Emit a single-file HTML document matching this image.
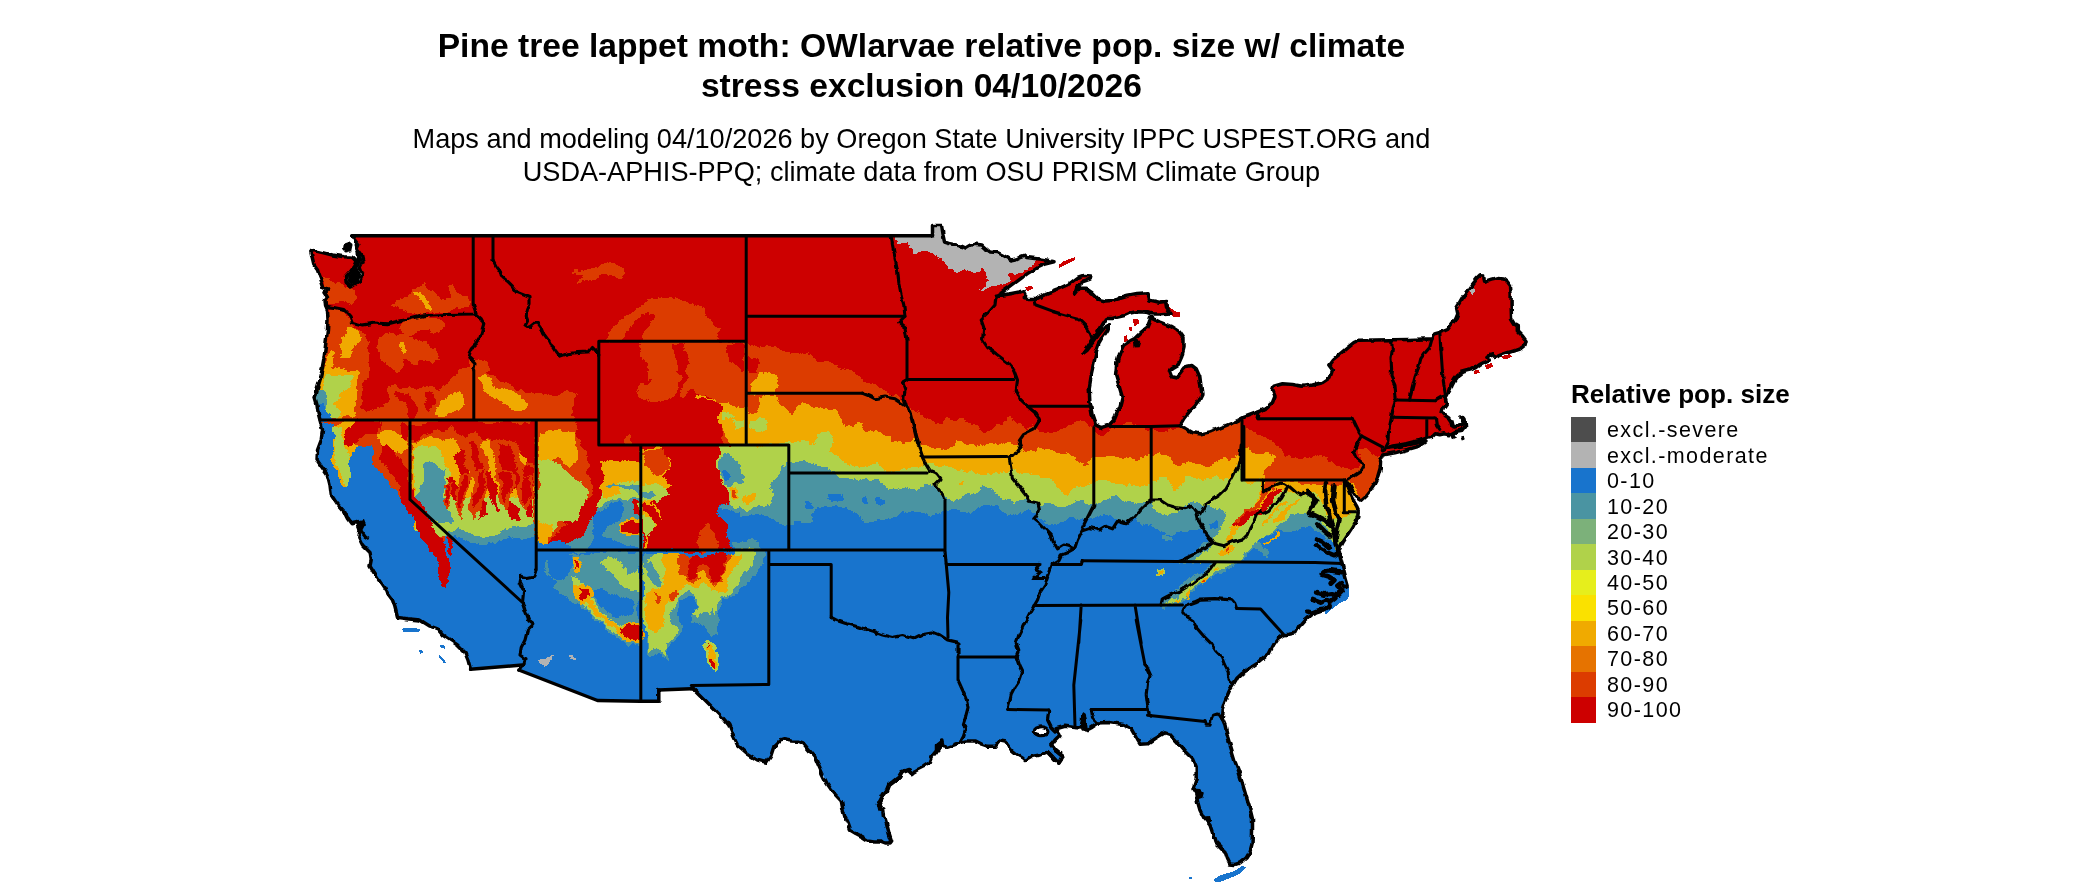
<!DOCTYPE html>
<html><head><meta charset="utf-8"><title>Pine tree lappet moth</title>
<style>
html,body{margin:0;padding:0;background:#fff;}
body{width:2100px;height:892px;position:relative;overflow:hidden;font-family:"Liberation Sans",sans-serif;color:#000;}
.t,#lt,.lb{will-change:transform;}
.t{position:absolute;left:0;width:1842.8px;text-align:center;white-space:nowrap;}
#t1{top:26.45px;font-size:33.62px;font-weight:bold;line-height:39.6px;}
#t2{top:122.65px;font-size:27.14px;line-height:32.9px;}
#lt{position:absolute;left:1570.5px;top:379.2px;font-size:26.07px;font-weight:bold;line-height:30px;white-space:nowrap;}
.sw{position:absolute;left:1571.2px;width:24.7px;height:25.6px;}
.lb{position:absolute;left:1607px;height:25.45px;line-height:25.45px;font-size:21.5px;white-space:nowrap;letter-spacing:1.4px;}
svg{position:absolute;left:0;top:0;}
</style></head><body>
<div class="t" id="t1">Pine tree lappet moth: OWlarvae relative pop. size w/ climate<br>stress exclusion 04/10/2026</div>
<div class="t" id="t2">Maps and modeling 04/10/2026 by Oregon State University IPPC USPEST.ORG and<br>USDA-APHIS-PPQ; climate data from OSU PRISM Climate Group</div>
<div id="lt">Relative pop. size</div>
<div class="sw" style="top:417.0px;background:#4d4d4d"></div><div class="lb" style="top:418.3px">excl.-severe</div>
<div class="sw" style="top:442.4px;background:#b3b3b3"></div><div class="lb" style="top:443.8px">excl.-moderate</div>
<div class="sw" style="top:467.9px;background:#1874cd"></div><div class="lb" style="top:469.2px">0-10</div>
<div class="sw" style="top:493.4px;background:#4a94a2"></div><div class="lb" style="top:494.7px">10-20</div>
<div class="sw" style="top:518.8px;background:#7cb17a"></div><div class="lb" style="top:520.1px">20-30</div>
<div class="sw" style="top:544.2px;background:#b0d24a"></div><div class="lb" style="top:545.5px">30-40</div>
<div class="sw" style="top:569.7px;background:#e6ee1c"></div><div class="lb" style="top:571.0px">40-50</div>
<div class="sw" style="top:595.1px;background:#fae100"></div><div class="lb" style="top:596.4px">50-60</div>
<div class="sw" style="top:620.6px;background:#f0aa00"></div><div class="lb" style="top:621.9px">60-70</div>
<div class="sw" style="top:646.0px;background:#e67300"></div><div class="lb" style="top:647.3px">70-80</div>
<div class="sw" style="top:671.5px;background:#dc3c00"></div><div class="lb" style="top:672.8px">80-90</div>
<div class="sw" style="top:697.0px;background:#cd0000"></div><div class="lb" style="top:698.2px">90-100</div>
<svg width="2100" height="892" viewBox="0 0 2100 892" shape-rendering="crispEdges">
<defs><clipPath id="land"><path d="M352.5 235.8L932.5 235.8L932.5 225.5L941.5 225.5L943.0 235.0L944.5 242.0L950.0 243.8L956.2 245.0L962.5 246.5L965.5 248.0L970.0 245.2L976.2 244.2L982.0 245.0L986.2 248.8L990.0 252.0L997.5 252.5L1002.5 255.0L1007.5 257.8L1011.2 260.0L1016.2 259.0L1021.2 256.5L1025.0 255.2L1027.5 257.5L1033.8 258.2L1040.0 259.0L1047.5 260.2L1054.0 261.8L1045.0 264.0L1036.0 268.2L1027.1 273.9L1018.1 280.6L1009.1 287.3L1001.3 292.9L996.1 296.1L1002.4 294.9L1011.4 293.4L1019.2 292.0L1023.0 290.7L1024.8 293.8L1024.2 298.7L1028.2 299.4L1034.9 299.6L1047.2 293.4L1058.5 288.9L1069.7 283.7L1077.5 277.7L1084.2 275.4L1091.0 275.9L1090.3 279.2L1083.1 281.5L1077.5 286.0L1075.3 293.8L1079.8 288.2L1085.4 288.2L1092.1 292.7L1098.8 299.4L1105.5 301.0L1112.3 300.5L1119.0 298.7L1128.0 296.1L1136.9 294.5L1148.1 293.8L1149.7 300.1L1159.3 302.3L1165.6 301.6L1166.5 307.2L1171.0 312.9L1159.3 314.0L1152.6 314.0L1147.0 312.2L1136.9 311.7L1129.1 313.5L1123.5 315.8L1116.8 317.3L1112.3 318.5L1105.5 318.5L1102.2 323.4L1098.8 329.7L1094.8 336.4L1091.4 342.0L1086.5 348.7L1083.1 353.2L1087.2 350.3L1092.1 343.6L1096.6 337.5L1101.1 331.5L1105.5 326.3L1109.6 324.7L1107.8 329.7L1103.3 336.4L1098.8 344.2L1096.1 352.1L1094.3 361.1L1091.4 374.5L1089.2 388.0L1089.8 401.4L1092.1 414.9L1095.5 424.9L1101.1 427.6L1108.9 425.2L1114.5 419.3L1120.1 405.9L1122.3 396.9L1119.0 385.7L1115.6 374.5L1116.8 363.3L1120.1 352.1L1123.5 345.4L1130.2 340.9L1134.7 338.6L1141.4 331.9L1147.0 327.4L1149.3 321.8L1150.4 317.3L1159.3 321.8L1170.5 326.3L1179.5 331.9L1184.0 338.6L1184.0 347.6L1181.8 356.6L1178.4 364.4L1172.8 367.8L1169.4 371.1L1171.7 376.8L1176.2 377.9L1180.6 372.3L1185.1 366.7L1191.8 365.5L1196.3 368.9L1199.7 376.8L1200.8 385.7L1201.9 394.7L1198.6 401.4L1195.2 405.9L1189.6 411.5L1185.1 417.1L1181.8 422.7L1179.5 426.1L1186.2 429.4L1191.8 432.8L1200.8 433.9L1210.9 431.7L1222.1 427.2L1233.3 422.7L1244.5 417.1L1260.0 411.5L1265.0 408.8L1272.5 402.5L1275.0 396.2L1272.5 390.0L1273.8 386.2L1282.5 383.8L1292.5 384.5L1302.5 386.2L1312.5 385.0L1322.5 382.5L1330.0 377.5L1332.5 370.0L1328.8 365.0L1332.5 360.0L1340.0 353.8L1347.5 347.5L1353.8 342.5L1359.1 340.2L1374.8 340.0L1391.6 339.8L1408.4 339.6L1424.1 339.1L1432.0 338.9L1433.5 334.0L1439.8 332.2L1443.2 331.3L1447.7 329.5L1451.0 325.0L1455.5 319.4L1457.8 313.8L1456.6 308.2L1460.0 302.6L1463.3 297.0L1467.8 291.4L1472.3 284.6L1476.8 279.1L1480.2 275.7L1483.5 276.1L1484.6 281.3L1491.4 279.1L1498.1 277.5L1502.6 277.9L1507.0 281.3L1510.4 285.8L1511.1 293.6L1511.1 304.8L1511.5 318.3L1514.9 323.9L1518.3 326.1L1518.3 331.7L1522.7 336.2L1526.1 340.7L1525.0 345.2L1520.5 348.5L1513.8 350.8L1507.0 353.0L1500.3 355.2L1494.7 357.5L1490.2 354.1L1486.9 356.4L1489.1 359.7L1484.6 362.0L1480.2 364.2L1475.7 367.6L1471.2 369.8L1466.7 370.9L1462.2 372.1L1457.8 375.4L1454.4 379.9L1452.1 384.4L1449.9 390.0L1447.7 394.5L1445.4 398.9L1446.5 403.4L1443.2 407.9L1442.1 412.4L1445.4 415.8L1448.8 418.0L1451.0 421.4L1452.1 425.8L1455.5 427.0L1460.0 425.8L1463.3 423.6L1462.2 419.1L1460.0 416.9L1461.8 416.4L1465.1 420.2L1465.6 425.8L1462.2 430.3L1456.6 431.4L1452.1 433.7L1448.8 434.8L1444.3 433.7L1439.8 434.8L1435.3 433.7L1432.0 437.1L1426.4 438.2L1419.7 440.4L1412.9 442.0L1406.2 443.8L1399.5 444.9L1392.8 446.0L1386.0 448.3L1392.8 447.8L1404.0 445.6L1415.2 443.3L1424.1 440.6L1425.9 442.0L1419.7 446.0L1408.4 449.4L1395.0 452.7L1382.7 455.0L1380.6 460.2L1380.2 469.1L1377.9 477.0L1374.5 483.7L1370.1 490.4L1365.6 496.0L1361.1 500.1L1356.6 497.1L1352.1 490.4L1348.8 483.7L1345.4 480.3L1346.5 484.8L1349.9 493.8L1353.3 500.5L1356.6 506.1L1358.2 509.5L1357.8 516.2L1355.5 521.8L1352.1 528.5L1347.7 535.2L1343.2 542.0L1339.8 548.7L1337.6 552.1L1338.9 553.4L1339.8 554.8L1342.1 563.3L1344.3 572.2L1346.5 580.1L1348.1 585.7L1344.3 586.8L1340.9 583.4L1337.6 585.7L1342.1 590.2L1337.6 594.6L1332.0 593.5L1335.3 598.0L1330.8 601.4L1326.4 600.2L1329.7 605.8L1324.1 609.6L1319.7 611.0L1312.0 613.8L1304.4 620.5L1298.7 627.2L1295.8 632.9L1289.2 634.2L1283.4 634.8L1277.7 638.6L1273.9 644.3L1271.0 650.0L1269.1 653.9L1264.4 657.7L1258.7 662.4L1252.9 666.2L1247.2 670.1L1241.5 673.9L1236.7 678.6L1233.9 683.4L1230.1 689.1L1227.2 695.8L1224.3 702.5L1222.0 710.1L1221.5 716.8L1225.0 725.2L1227.5 736.5L1231.2 749.0L1235.0 761.5L1238.8 771.5L1242.5 784.0L1246.2 796.5L1250.0 809.0L1252.5 819.0L1252.5 831.5L1252.0 844.0L1250.0 851.5L1246.2 857.8L1240.0 862.8L1235.0 864.5L1230.0 864.0L1227.5 859.0L1225.0 851.5L1220.0 846.5L1215.0 841.5L1212.5 832.8L1210.0 825.2L1203.8 817.8L1200.0 810.2L1197.5 801.5L1196.2 794.0L1193.0 789.0L1196.2 779.0L1196.2 767.8L1192.5 759.0L1185.0 751.5L1176.2 741.5L1170.0 734.5L1165.0 732.8L1155.0 738.8L1147.5 743.8L1140.0 744.2L1137.5 740.0L1131.2 728.8L1122.5 724.5L1110.0 722.5L1097.5 723.0L1090.0 728.0L1086.2 730.0L1085.0 720.0L1083.0 715.0L1081.2 728.0L1075.0 727.5L1065.0 726.2L1056.2 728.8L1060.0 735.0L1055.0 740.0L1051.2 745.0L1055.0 750.0L1062.5 756.2L1061.2 760.0L1058.8 763.0L1052.5 757.0L1047.5 751.8L1040.0 755.0L1032.5 756.2L1025.0 760.5L1022.5 758.1L1017.2 754.9L1011.8 750.6L1008.5 746.3L1005.3 742.0L998.9 740.9L994.6 746.3L988.1 746.3L981.6 744.1L975.2 740.9L966.6 740.9L960.1 742.6L953.7 745.2L947.2 747.3L942.9 746.3L941.8 740.9L936.5 745.2L936.5 751.6L932.1 757.0L930.0 762.4L923.5 766.7L917.1 769.9L911.7 773.2L908.5 769.9L902.0 772.1L898.8 777.5L893.4 781.8L889.1 785.0L887.0 790.4L883.7 794.7L880.5 801.1L877.9 804.4L880.5 808.7L883.7 809.8L884.4 816.2L887.0 824.8L889.1 833.4L891.7 841.0L890.2 843.1L885.9 843.1L880.5 841.0L874.0 841.0L867.6 839.9L862.2 836.6L855.8 833.4L850.4 830.2L848.2 823.7L845.0 817.3L842.9 809.8L841.3 801.1L836.4 795.8L831.0 789.3L826.7 782.9L822.4 774.2L818.1 764.6L814.9 757.0L809.5 750.6L803.0 743.0L798.7 741.3L791.2 740.9L783.7 739.8L779.4 740.9L774.0 746.3L770.8 756.0L766.5 762.4L757.5 760.0L747.5 753.8L737.5 745.0L733.8 737.5L728.8 725.0L722.5 717.5L712.5 707.5L700.0 695.0L693.0 688.0L691.2 688.8L658.8 690.0L658.8 701.2L640.0 701.2L597.5 700.5L518.8 670.0L522.5 665.0L470.5 669.2L468.0 660.0L465.0 652.5L457.5 645.0L450.0 640.0L442.5 635.0L437.5 628.8L430.0 626.2L420.0 620.0L407.5 618.8L397.5 617.5L395.0 607.5L392.5 600.0L388.8 595.0L383.8 587.5L378.8 580.0L373.8 572.5L370.0 566.2L371.2 560.0L370.0 552.5L362.5 545.0L358.8 537.5L360.0 530.0L357.5 522.5L351.2 523.8L347.5 518.8L343.8 511.2L336.2 502.5L331.2 495.0L330.0 485.0L327.5 475.0L321.2 466.2L317.0 460.0L317.5 450.0L321.2 440.0L322.5 430.0L320.0 420.0L318.0 412.5L317.0 405.0L315.0 398.0L317.0 390.0L320.0 380.0L322.0 370.0L323.8 360.0L325.0 350.0L326.2 340.0L327.5 330.0L328.0 320.0L327.5 311.2L325.5 306.2L325.0 300.0L327.5 296.2L325.0 292.5L327.5 289.5L323.8 288.0L322.0 282.5L319.5 276.2L317.5 270.0L313.8 265.0L312.0 257.5L310.8 252.0L313.8 250.5L322.5 252.5L332.5 255.0L343.8 256.8L348.8 257.0L352.5 257.5L356.2 261.2L353.8 266.2L350.0 271.2L345.5 276.2L346.2 282.5L351.2 287.0L360.0 281.2L362.5 273.8L360.0 267.5L363.0 261.2L361.2 253.8L357.0 248.0L358.8 243.8L355.5 240.0Z"/></clipPath>
<filter id="rough" filterUnits="userSpaceOnUse" x="270" y="190" width="1320" height="700" color-interpolation-filters="sRGB">
<feTurbulence type="fractalNoise" baseFrequency="0.035" numOctaves="3" seed="7" result="n1"/>
<feDisplacementMap in="SourceGraphic" in2="n1" scale="14" xChannelSelector="R" yChannelSelector="G" result="d1"/>
<feTurbulence type="fractalNoise" baseFrequency="0.16" numOctaves="2" seed="3" result="n2"/>
<feDisplacementMap in="d1" in2="n2" scale="5" xChannelSelector="G" yChannelSelector="R"/>
</filter>
<filter id="wob" filterUnits="userSpaceOnUse" x="270" y="190" width="1320" height="700" color-interpolation-filters="sRGB">
<feTurbulence type="fractalNoise" baseFrequency="0.11" numOctaves="2" seed="11" result="n3"/>
<feDisplacementMap in="SourceGraphic" in2="n3" scale="4.5" xChannelSelector="R" yChannelSelector="B"/>
</filter></defs>
<path fill="#1874cd" d="M1348.1 585.7L1349.5 589.0L1348.8 596.9L1346.5 600.2L1342.1 601.8L1337.6 604.7L1333.1 608.1L1328.6 611.5L1325.9 615.3L1324.1 610.3L1329.7 605.8L1335.3 598.0L1342.1 590.2L1344.3 586.8Z"/><path fill="#cd0000" d="M1058.8 265.0L1063.8 261.2L1070.0 258.8L1075.0 257.0L1075.5 259.5L1070.0 262.5L1063.8 265.5L1059.5 267.5Z"/><path fill="#cd0000" d="M1025.0 287.5L1031.2 285.5L1033.8 288.0L1027.5 291.2Z"/><path fill="#cd0000" d="M1132.4 319.6L1138.0 318.5L1139.6 322.9L1134.7 326.3Z"/><path fill="#cd0000" d="M1123.5 336.4L1126.8 335.3L1128.0 340.9L1124.6 342.0Z"/><path fill="#cd0000" d="M1129.1 327.4L1132.0 327.0L1132.4 330.8L1129.8 331.5Z"/><path fill="#cd0000" d="M1159.3 300.1L1167.2 300.1L1167.9 306.1L1175.0 311.3L1179.5 312.2L1180.0 317.3L1172.8 316.7L1169.4 312.2L1163.8 307.2Z"/><path fill="#1874cd" d="M1213.8 879.5L1218.8 876.0L1226.2 873.5L1232.5 872.0L1237.5 869.0L1243.0 865.2L1246.0 867.8L1240.0 873.5L1232.5 877.0L1226.2 879.5L1219.5 882.0L1215.0 882.0Z"/><path fill="#1874cd" d="M1189.2 877.0L1191.8 877.0L1191.8 879.0L1189.2 879.0Z"/><path fill="#1874cd" d="M401.2 628.8L407.5 627.5L415.0 628.0L420.0 629.5L418.8 632.0L410.0 632.5L403.8 632.0Z"/><path fill="#1874cd" d="M418.8 650.0L422.0 649.5L423.0 653.0L420.0 653.8Z"/><path fill="#1874cd" d="M439.5 645.0L443.8 644.5L445.5 648.8L441.2 648.0Z"/><path fill="#1874cd" d="M438.8 655.0L441.2 656.2L446.2 662.5L443.8 663.0L439.5 658.0Z"/><path fill="#cd0000" d="M1484.6 365.3L1491.4 363.1L1493.6 366.4L1486.9 369.4Z"/><path fill="#cd0000" d="M1473.4 370.9L1479.0 369.8L1479.7 373.2L1474.5 373.9Z"/><path fill="#cd0000" d="M1500.3 356.4L1509.3 354.1L1512.7 356.4L1504.8 359.7Z"/>
<g clip-path="url(#land)">
<g filter="url(#rough)">
<rect x="200" y="150" width="1460" height="800" fill="#1874cd"/>
<path fill="#4a94a2" d="M746.2 150.0L746.2 445.0L719.0 446.0L718.8 450.2L718.8 456.9L719.5 467.7L720.1 478.4L722.8 486.5L726.9 494.6L728.2 502.7L726.9 508.0L722.8 509.4L717.5 512.1L717.5 512.1L724.2 513.4L732.3 510.7L737.6 512.1L741.7 516.1L748.4 516.1L755.1 514.8L760.5 513.4L765.9 516.1L771.3 518.8L778.0 521.5L784.7 522.8L788.1 522.8L790.5 523.0L798.9 522.1L807.3 523.8L810.6 520.5L812.3 513.7L817.4 510.4L824.1 508.7L830.8 510.4L837.5 508.7L844.3 511.2L851.0 512.0L857.7 514.6L864.5 516.2L871.2 518.8L877.9 517.9L884.6 519.6L891.4 518.8L898.1 515.4L904.8 512.9L911.5 510.4L918.3 511.2L925.0 515.4L930.0 518.8L935.1 513.7L941.8 508.7L948.5 508.7L955.3 509.5L962.0 510.4L968.7 512.0L975.5 510.4L982.2 508.7L988.9 507.0L995.6 506.2L1002.4 508.7L1009.1 514.6L1015.8 517.1L1022.5 513.7L1029.3 510.4L1034.3 513.7L1039.4 518.8L1046.1 523.8L1052.8 525.5L1059.5 522.1L1068.0 520.5L1076.4 521.3L1083.1 520.5L1090.3 519.4L1097.0 516.0L1103.7 516.0L1110.5 517.7L1117.2 519.4L1123.9 520.2L1130.6 517.7L1137.4 516.0L1140.7 521.1L1144.1 526.1L1150.8 527.8L1157.5 529.5L1164.3 532.9L1171.0 534.5L1177.7 531.2L1184.5 529.5L1191.2 527.8L1197.3 528.3L1202.7 531.0L1208.0 535.0L1210.7 539.0L1205.3 543.1L1200.0 547.1L1193.2 552.5L1186.5 556.5L1181.1 559.2L1175.8 561.2L1183.8 563.0L1197.3 563.2L1210.7 563.5L1205.3 570.0L1197.3 575.4L1189.2 580.7L1181.1 586.1L1173.1 591.5L1165.0 596.9L1159.6 603.6L1156.9 607.6L1165.0 607.6L1174.4 603.6L1186.5 599.6L1194.6 594.2L1202.7 587.5L1210.7 580.7L1218.8 575.4L1226.9 570.0L1235.0 565.9L1241.7 559.2L1248.4 553.8L1251.1 549.8L1256.5 552.5L1265.9 556.5L1269.9 551.1L1264.5 545.8L1259.2 540.4L1264.5 536.3L1272.6 532.3L1279.3 528.9L1283.4 531.0L1291.5 531.6L1298.2 530.3L1304.9 528.9L1310.3 527.6L1318.4 529.6L1323.8 533.6L1329.1 537.7L1333.2 543.1L1335.9 548.4L1337.9 551.8L1358.7 551.8L1700.0 550.0L1700.0 150.0Z"/>
<path fill="#b0d24a" d="M746.2 150.0L746.2 445.0L719.0 446.0L718.8 450.2L718.8 456.9L719.5 467.7L720.1 478.4L722.8 486.5L726.9 494.6L728.2 502.7L728.2 505.4L732.3 508.0L737.6 505.4L741.7 506.7L745.7 509.4L751.1 508.0L756.5 504.0L763.2 505.4L769.9 502.7L774.0 495.9L771.3 489.2L769.9 481.1L776.7 475.8L780.7 469.0L786.1 466.3L791.5 465.7L798.2 463.6L803.6 460.3L809.0 461.6L815.7 463.6L822.4 466.3L827.8 469.0L834.5 470.4L839.9 475.8L850.7 476.4L858.7 479.8L866.8 482.5L872.2 483.8L878.9 483.8L885.6 486.5L892.4 487.9L899.1 486.5L904.8 486.8L911.5 488.5L918.3 487.7L925.0 486.0L931.7 484.3L936.8 486.8L941.8 490.2L948.5 495.2L957.0 496.9L963.7 495.2L970.4 493.6L977.1 495.2L982.2 488.5L988.9 490.2L995.6 493.6L1002.4 496.9L1009.1 499.4L1015.8 501.1L1022.5 496.9L1029.3 500.3L1036.0 501.9L1042.7 503.6L1051.1 502.8L1059.5 504.5L1068.0 501.9L1076.4 500.3L1083.1 499.4L1092.0 499.2L1100.4 500.9L1108.8 499.2L1117.2 497.5L1125.6 499.2L1134.0 497.5L1140.7 500.9L1147.5 502.6L1151.7 502.6L1155.9 507.6L1160.9 512.7L1167.6 516.0L1174.4 512.7L1181.1 509.3L1187.8 507.6L1192.9 504.3L1199.6 503.4L1206.3 504.3L1211.4 505.9L1218.1 507.6L1223.1 511.0L1226.5 516.0L1224.8 522.8L1221.5 529.5L1218.1 534.5L1214.7 539.6L1211.4 544.6L1208.0 550.0L1205.3 551.8L1200.0 555.2L1193.2 558.5L1187.9 560.8L1200.0 562.7L1213.4 563.2L1210.7 570.0L1202.7 576.7L1194.6 583.4L1186.5 588.8L1178.4 594.2L1170.4 599.6L1166.3 603.6L1170.4 603.6L1178.4 599.6L1187.9 595.5L1195.9 590.1L1204.0 583.4L1212.1 576.7L1220.2 571.3L1228.2 565.9L1236.3 561.9L1241.7 556.5L1247.1 552.5L1251.1 547.1L1256.5 543.1L1261.9 539.0L1268.6 533.6L1275.3 528.9L1280.7 522.9L1286.1 517.5L1292.8 514.8L1299.5 513.5L1304.9 514.1L1309.0 512.8L1313.0 514.8L1318.4 520.2L1323.8 526.9L1327.8 533.6L1331.8 540.4L1335.9 547.1L1337.9 551.1L1358.7 551.1L1700.0 550.0L1700.0 150.0Z"/>
<path fill="#f0aa00" d="M746.2 150.0L746.2 443.2L788.8 444.3L795.5 444.0L802.2 442.3L809.0 444.0L814.0 442.3L817.4 437.3L822.4 433.9L829.1 433.9L834.2 437.3L835.9 444.0L830.8 449.0L835.9 454.1L840.9 457.4L846.0 460.8L851.0 464.2L857.7 467.5L864.5 469.2L871.2 465.9L874.5 464.2L879.6 468.4L886.3 470.1L894.7 469.2L903.1 470.1L911.5 470.9L918.3 470.9L925.0 470.1L928.4 466.7L933.4 465.9L938.5 467.5L945.2 466.7L951.9 468.4L958.6 469.2L965.4 470.9L972.1 469.2L978.8 470.9L985.5 473.4L992.3 474.3L997.3 470.9L1002.4 468.4L1007.4 467.5L1012.5 469.2L1017.5 472.6L1024.2 473.4L1029.3 475.9L1036.0 477.6L1042.7 479.3L1051.1 481.8L1057.9 486.0L1062.9 489.4L1068.0 491.9L1074.7 489.4L1081.4 487.7L1086.9 485.8L1093.6 480.7L1100.4 479.9L1107.1 480.7L1113.8 482.4L1120.5 479.0L1127.3 482.4L1134.0 484.1L1140.7 485.8L1147.5 485.8L1151.7 484.1L1155.9 484.1L1159.2 479.0L1164.3 476.5L1167.6 479.0L1171.0 484.1L1176.0 489.1L1181.1 487.4L1184.5 482.4L1187.8 477.4L1192.9 475.7L1196.2 480.7L1201.3 479.0L1206.3 477.4L1211.4 477.4L1218.1 479.0L1223.1 482.4L1228.2 479.0L1233.2 474.0L1236.6 467.3L1238.3 458.9L1240.8 455.5L1243.3 457.2L1244.2 474.0L1245.0 479.0L1251.7 480.7L1258.5 482.4L1261.0 487.4L1258.5 494.2L1253.4 504.3L1246.7 514.4L1240.0 522.8L1233.2 531.2L1228.2 537.9L1224.8 543.0L1229.9 541.3L1236.6 534.5L1245.0 526.1L1253.4 517.7L1261.8 507.6L1270.2 499.2L1277.0 492.5L1282.0 489.1L1288.7 491.7L1295.5 494.2L1303.9 496.7L1312.3 495.0L1319.0 496.7L1324.0 502.6L1326.6 511.0L1329.9 517.7L1337.5 518.6L1344.2 516.0L1349.3 512.7L1354.3 507.6L1379.5 507.6L1700.0 507.0L1700.0 150.0Z"/>
<path fill="#dc3c00" d="M746.2 150.0L746.2 412.1L751.8 412.1L756.8 404.5L756.0 398.6L765.2 396.6L777.0 395.2L780.4 403.6L785.4 410.4L790.5 412.1L795.5 407.0L798.9 401.9L803.9 399.4L810.6 401.1L819.0 403.6L827.5 406.2L835.9 405.3L840.9 412.1L844.3 418.8L847.6 423.8L852.7 425.5L857.7 422.1L861.1 423.8L864.5 428.9L869.5 432.2L876.2 434.8L883.0 436.4L888.0 438.9L893.0 443.2L898.1 440.6L903.1 437.3L908.2 436.4L913.2 434.8L918.3 440.6L923.3 444.0L928.4 446.5L933.4 449.0L938.5 449.9L943.5 450.7L948.5 448.2L953.6 444.0L958.6 442.3L965.4 444.0L972.1 446.5L978.8 445.7L985.5 444.0L990.6 440.6L995.6 444.0L1002.4 446.5L1009.1 447.4L1015.8 448.2L1022.5 450.7L1029.3 454.1L1036.0 450.7L1042.7 447.4L1049.5 445.7L1054.5 449.0L1059.5 454.1L1066.3 452.4L1071.3 455.8L1078.0 460.8L1084.8 464.2L1088.6 458.9L1093.6 458.0L1100.4 458.9L1107.1 457.2L1113.8 455.5L1120.5 458.0L1127.3 457.2L1134.0 458.9L1140.7 457.2L1147.5 456.3L1151.7 457.2L1157.5 457.2L1164.3 458.0L1171.0 458.9L1176.0 463.9L1181.1 464.8L1186.1 462.2L1191.2 461.4L1194.5 463.9L1199.6 466.4L1204.6 465.6L1209.7 463.9L1214.7 460.5L1221.5 458.9L1228.2 458.0L1234.9 456.3L1238.3 453.8L1240.8 450.4L1244.2 448.8L1250.0 450.4L1255.1 453.8L1261.8 453.8L1268.5 455.5L1273.6 458.9L1274.4 463.9L1271.9 467.3L1268.5 470.6L1265.2 474.0L1263.5 478.2L1262.7 487.4L1260.1 494.2L1253.4 504.3L1245.0 514.4L1238.3 522.8L1234.9 527.8L1241.6 524.5L1248.4 517.7L1255.1 509.3L1261.8 500.9L1268.5 494.2L1275.3 487.4L1280.3 482.4L1287.0 480.7L1295.5 482.4L1302.2 484.1L1308.9 482.4L1315.6 484.1L1322.4 485.8L1329.1 484.1L1335.8 484.1L1345.9 480.7L1351.0 484.1L1356.0 490.8L1361.0 499.2L1379.5 500.9L1700.0 501.0L1700.0 150.0Z"/>
<path fill="#cd0000" d="M746.2 150.0L745.7 346.0L749.9 346.0L759.6 345.3L768.0 346.0L776.3 348.1L784.6 350.9L793.0 349.5L801.3 353.6L809.7 355.0L818.0 359.2L826.3 360.6L837.5 366.1L847.2 368.9L854.1 371.7L857.7 376.7L867.8 381.8L879.6 386.0L888.0 391.0L896.4 395.2L904.0 398.6L909.9 403.6L914.9 410.4L920.0 415.4L925.0 418.8L930.0 417.9L935.1 420.4L941.8 423.8L948.5 420.4L957.0 423.8L963.7 418.8L970.4 422.1L978.8 425.5L985.5 430.5L992.3 427.2L999.0 423.8L1005.7 420.4L1012.5 423.8L1019.2 427.2L1025.9 428.9L1032.6 425.5L1039.4 427.2L1046.1 430.5L1054.5 432.2L1062.9 428.9L1069.6 425.5L1076.4 423.8L1083.1 420.4L1086.9 422.7L1092.0 425.2L1097.0 430.3L1103.7 431.9L1110.5 428.6L1118.9 427.8L1127.3 426.9L1135.7 427.8L1144.1 429.4L1150.8 428.6L1157.5 430.3L1164.3 431.1L1171.0 429.4L1177.7 427.8L1184.5 428.6L1189.5 432.8L1192.9 425.2L1228.2 416.8L1234.9 425.2L1240.8 422.7L1244.2 428.6L1253.4 432.8L1261.8 435.3L1270.2 438.7L1277.0 445.4L1282.0 452.1L1285.4 455.5L1295.5 453.8L1302.2 455.5L1308.9 457.2L1315.6 457.2L1322.4 458.9L1329.1 462.2L1337.5 463.9L1345.9 465.6L1352.6 467.3L1357.7 465.6L1361.0 458.9L1357.7 448.8L1366.1 450.4L1374.5 453.8L1379.5 457.2L1396.4 457.2L1700.0 457.0L1700.0 150.0Z"/>
<path fill="#cd0000" d="M280.0 150.0L280.0 420.0L318.5 419.6L321.9 421.3L330.3 423.8L333.6 433.9L331.9 444.0L338.7 450.7L342.1 444.0L355.5 444.0L367.3 444.0L372.3 450.7L374.0 460.8L379.0 467.5L384.1 474.3L389.1 484.4L394.2 491.1L399.2 497.8L400.2 498.1L405.6 507.5L409.6 518.3L415.0 527.7L420.4 537.1L425.8 546.5L431.1 554.6L436.5 562.7L439.2 573.4L443.2 582.8L450.0 584.2L451.3 573.4L450.0 562.7L447.3 550.5L443.2 541.1L444.6 534.4L455.4 533.1L466.1 541.1L474.2 543.8L482.3 546.5L490.3 543.8L498.4 541.1L506.5 537.1L514.5 535.8L522.6 537.1L528.0 535.8L534.7 534.4L537.4 542.5L546.9 543.8L554.9 545.2L560.3 543.8L568.4 546.5L579.1 549.2L589.9 547.9L600.7 549.2L614.1 549.9L628.9 549.2L640.4 550.5L641.4 550.0L726.9 550.0L726.9 550.0L728.2 543.0L726.9 536.3L725.5 528.2L721.5 521.5L716.1 513.4L718.8 510.7L722.8 509.4L726.9 508.0L728.2 502.7L726.9 494.6L722.8 486.5L720.1 478.4L719.5 467.7L718.8 456.9L718.8 450.2L719.0 446.0L746.2 445.0L746.2 150.0Z"/>
<path fill="#dc3c00" d="M325.2 312.5L338.7 309.1L348.8 314.2L352.1 324.2L358.9 325.9L363.9 332.7L367.3 342.8L365.6 352.9L367.3 362.9L368.9 375.1L363.9 380.1L360.5 390.2L361.4 400.3L358.9 410.4L367.3 415.4L377.4 412.1L384.1 403.6L390.8 396.9L387.4 386.8L394.2 383.4L400.9 390.2L407.6 388.5L417.7 391.9L427.8 386.8L437.9 390.2L446.3 383.4L451.4 376.7L458.1 370.0L471.5 366.6L474.9 373.4L485.0 371.7L495.1 375.1L501.8 383.4L511.9 386.8L523.7 388.5L535.5 393.6L547.2 391.9L559.0 395.2L569.1 390.2L575.8 395.2L572.5 403.6L569.1 412.1L575.8 421.3L577.5 437.3L582.5 450.7L585.9 464.2L589.3 477.6L592.6 487.7L585.9 501.2L577.5 513.0L563.0 521.0L554.9 527.7L549.5 533.1L548.2 542.5L546.9 543.8L537.4 542.5L534.7 534.4L534.7 534.4L528.0 535.8L522.6 537.1L514.5 535.8L506.5 537.1L498.4 541.1L490.3 543.8L482.3 546.5L474.2 543.8L466.1 541.1L455.4 533.1L444.6 534.4L443.2 541.1L447.3 550.5L450.0 562.7L451.3 573.4L450.0 584.2L443.2 582.8L439.2 573.4L436.5 562.7L431.1 554.6L425.8 546.5L420.4 537.1L415.0 527.7L409.6 518.3L405.6 507.5L400.2 498.1L399.2 497.8L394.2 491.1L389.1 484.4L384.1 474.3L379.0 467.5L374.0 460.8L372.3 450.7L367.3 444.0L355.5 444.0L342.1 444.0L338.7 450.7L331.9 444.0L333.6 433.9L330.3 423.8L321.9 421.3L318.5 419.6L280.0 420.0L280.0 300.0Z"/>
<path fill="#f0aa00" d="M345.4 325.9L355.5 325.9L360.5 332.6L358.9 341.0L353.8 346.1L350.4 354.5L343.7 357.9L342.1 349.4L340.4 342.7L343.7 334.3Z"/>
<path fill="#f0aa00" d="M328.6 346.1L333.6 347.8L337.0 356.2L333.6 364.6L340.4 367.9L350.4 369.6L357.2 375.0L325.2 375.0L326.9 359.5Z"/>
<path fill="#f0aa00" d="M321.9 370.0L357.2 370.0L356.3 380.1L355.5 390.2L356.3 400.3L353.8 410.4L355.5 419.6L318.5 419.6L316.8 407.0L314.3 396.9L318.5 383.4Z"/>
<path fill="#f0aa00" d="M458.1 390.2L461.4 396.9L464.8 403.6L459.8 408.7L451.4 412.1L444.6 417.1L437.9 415.4L441.3 407.0L446.3 400.3L453.0 395.2Z"/>
<path fill="#f0aa00" d="M478.3 376.7L486.7 375.1L491.7 380.1L490.0 385.1L496.8 391.9L506.9 393.6L515.3 391.9L520.3 398.6L527.0 403.6L525.4 408.7L517.0 410.4L508.5 407.0L501.8 403.6L493.4 400.3L485.0 391.9L479.9 385.1Z"/>
<path fill="#f0aa00" d="M333.6 423.8L357.2 422.1L355.5 430.5L350.4 440.6L355.5 444.0L350.4 457.4L345.4 470.9L348.8 484.4L343.7 487.7L338.7 474.3L333.6 460.8L331.9 444.0Z"/>
<path fill="#f0aa00" d="M374.0 433.9L407.6 432.2L407.6 449.0L400.9 454.1L394.2 450.7L387.4 444.0L379.0 445.7L374.0 440.6Z"/>
<path fill="#f0aa00" d="M411.8 442.3L421.1 438.9L431.2 437.3L441.3 440.6L451.4 437.3L458.1 447.4L461.4 460.8L468.2 470.9L474.9 484.4L478.3 497.8L485.0 511.3L488.4 520.0L490.0 531.5L411.8 531.5Z"/>
<path fill="#f0aa00" d="M481.6 444.0L488.4 442.3L495.1 454.1L498.4 467.5L501.8 481.0L503.5 494.4L501.8 504.5L496.8 487.7L491.7 470.9L486.7 457.4Z"/>
<path fill="#f0aa00" d="M517.0 444.0L523.7 445.7L525.4 460.8L522.0 464.2L518.6 454.1Z"/>
<path fill="#f0aa00" d="M538.8 432.2L575.8 432.2L575.8 460.8L569.1 464.2L562.4 457.4L552.3 460.8L538.8 460.8Z"/>
<path fill="#f0aa00" d="M412.3 495.4L534.7 487.3L534.7 525.0L528.0 526.3L519.9 529.0L511.9 527.7L503.8 530.4L495.7 533.1L487.6 535.8L479.6 537.1L471.5 534.4L463.4 531.7L455.4 526.3L447.3 527.7L439.2 519.6L431.1 511.5L420.4 503.5Z"/>
<path fill="#b0d24a" d="M538.8 460.8L552.3 460.8L562.4 464.2L569.1 470.9L579.2 477.6L585.9 491.1L584.2 504.5L575.8 520.0L538.8 520.0Z"/>
<path fill="#b0d24a" d="M537.4 488.6L568.4 488.6L565.7 500.8L561.6 511.5L557.6 522.3L553.6 533.1L549.5 541.1L537.4 541.1Z"/>
<path fill="#b0d24a" d="M326.9 376.7L350.4 375.1L352.1 388.5L342.1 391.9L333.6 403.6L338.7 413.7L333.6 419.6L325.2 419.6L323.6 403.6L325.2 390.2Z"/>
<path fill="#b0d24a" d="M414.4 449.0L427.8 444.0L437.9 449.0L444.6 460.8L451.4 470.9L448.0 481.0L451.4 494.4L461.4 504.5L468.2 520.0L469.9 531.5L414.4 531.5Z"/>
<path fill="#b0d24a" d="M330.3 425.5L340.4 427.2L343.7 440.6L348.8 457.4L352.1 474.3L348.8 487.7L342.1 477.6L337.0 460.8L333.6 444.0Z"/>
<path fill="#b0d24a" d="M415.0 500.8L534.7 498.1L534.7 525.0L528.0 526.3L519.9 529.0L511.9 527.7L503.8 530.4L495.7 533.1L487.6 535.8L479.6 537.1L471.5 534.4L463.4 531.7L455.4 526.3L447.3 527.7L439.2 519.6L431.1 511.5L420.4 506.1Z"/>
<path fill="#4a94a2" d="M424.4 464.2L434.5 460.8L444.6 467.5L446.3 481.0L442.9 494.4L448.0 504.5L451.4 520.0L416.0 520.0L414.4 501.2L421.1 487.7L424.4 477.6Z"/>
<path fill="#4a94a2" d="M318.5 390.2L326.9 388.5L327.8 403.6L325.2 413.7L317.7 413.7L316.0 400.3Z"/>
<path fill="#4a94a2" d="M444.6 534.4L455.4 533.1L466.1 541.1L474.2 543.8L482.3 546.5L490.3 543.8L498.4 541.1L506.5 537.1L514.5 535.8L522.6 537.1L528.0 535.8L534.7 534.4L534.7 523.6L528.0 525.0L519.9 527.7L511.9 526.3L503.8 529.0L495.7 531.7L487.6 534.4L479.6 535.8L471.5 533.1L463.4 530.4L455.4 525.0L447.3 526.3Z"/>
<path fill="#1874cd" d="M317.7 401.9L325.2 403.6L328.6 419.6L318.5 419.6Z"/>
<path fill="#cd0000" d="M358.9 420.4L374.0 421.3L380.7 427.2L374.0 433.9L363.9 432.2L355.5 440.6L347.1 444.0L342.1 437.3L348.8 428.9Z"/>
<path fill="#cd0000" d="M394.2 391.9L404.3 393.6L411.0 403.6L417.7 412.1L414.4 418.8L407.6 413.7L400.9 403.6Z"/>
<path fill="#cd0000" d="M424.4 393.6L434.5 395.2L437.9 403.6L432.9 413.7L427.8 408.7Z"/>
<path fill="#cd0000" d="M411.0 422.1L533.8 422.1L533.8 464.2L525.4 460.8L518.6 450.7L511.9 440.6L501.8 437.3L493.4 444.0L485.0 440.6L476.6 433.9L468.2 437.3L459.8 433.9L451.4 427.2L442.9 432.2L434.5 428.9L427.8 433.9L417.7 437.3L411.0 440.6Z"/>
<path fill="#cd0000" d="M498.4 444.0L506.9 442.3L513.6 454.1L517.0 467.5L518.6 481.0L515.3 494.4L510.2 487.7L506.9 474.3L501.8 460.8Z"/>
<path fill="#cd0000" d="M523.7 464.2L533.8 465.9L533.8 520.0L527.0 520.0L525.4 504.5L522.0 487.7Z"/>
<path fill="#cd0000" d="M468.2 444.0L474.9 442.3L478.3 457.4L481.6 470.9L478.3 477.6L473.2 464.2Z"/>
<path fill="#cd0000" d="M485.0 474.3L491.7 470.9L496.8 484.4L500.1 497.8L498.4 511.3L493.4 504.5L488.4 491.1Z"/>
<path fill="#cd0000" d="M454.7 454.1L459.8 450.7L466.5 467.5L469.9 484.4L466.5 487.7L459.8 470.9Z"/>
<path fill="#cd0000" d="M474.9 487.7L481.6 486.0L485.0 501.2L486.7 514.6L481.6 518.0L478.3 504.5Z"/>
<path fill="#cd0000" d="M505.2 497.8L511.9 496.1L517.0 511.3L518.6 520.0L511.9 520.0L508.5 509.6Z"/>
<path fill="#cd0000" d="M448.0 477.6L453.0 474.3L458.1 487.7L461.4 501.2L458.1 504.5L451.4 491.1Z"/>
<path fill="#cd0000" d="M397.5 490.0L410.9 490.0L413.6 500.8L424.4 511.5L433.8 521.0L439.2 530.4L443.2 541.1L447.3 550.5L450.0 562.7L451.3 573.4L450.0 584.2L443.2 582.8L439.2 573.4L436.5 562.7L431.1 554.6L425.8 546.5L420.4 537.1L415.0 527.7L409.6 518.3L405.6 507.5L400.2 498.1Z"/>
<path fill="#cd0000" d="M379.0 445.7L387.4 444.0L394.2 450.7L400.9 460.8L407.6 470.9L407.6 491.1L400.9 491.1L395.9 477.6L389.1 467.5L382.4 457.4Z"/>
<path fill="#cd0000" d="M400.9 422.1L407.6 422.1L407.6 437.3L402.6 433.9Z"/>
<path fill="#cd0000" d="M445.9 534.4L450.0 535.8L453.3 546.5L454.7 557.3L452.0 558.6L449.3 547.9Z"/>
<path fill="#dc3c00" d="M459.4 473.9L470.1 472.5L468.8 490.0L466.1 502.1L463.4 512.9L460.7 518.9L457.4 508.8L458.0 490.0Z"/>
<path fill="#cd0000" d="M462.1 475.2L467.5 474.5L466.8 490.0L464.5 500.8L462.1 510.2L460.1 504.8L460.7 490.0Z"/>
<path fill="#dc3c00" d="M474.2 468.5L487.6 467.1L488.3 490.0L485.6 499.4L480.9 510.2L474.9 518.9L470.8 508.8L472.8 490.0Z"/>
<path fill="#cd0000" d="M476.9 469.8L484.9 469.1L485.6 490.0L482.3 499.4L477.1 510.2L474.2 506.1L475.8 490.0Z"/>
<path fill="#dc3c00" d="M498.4 471.2L513.2 469.8L515.2 490.0L512.9 500.8L507.8 510.2L502.4 503.5L499.8 490.0Z"/>
<path fill="#cd0000" d="M501.8 472.5L510.5 471.8L512.5 490.0L510.2 499.4L507.1 504.8L504.5 499.4L503.1 490.0Z"/>
<path fill="#dc3c00" d="M519.9 476.5L533.4 476.5L533.4 490.0L532.0 503.5L526.7 512.9L521.3 500.8L519.9 490.0Z"/>
<path fill="#cd0000" d="M523.3 477.9L531.4 477.9L531.4 490.0L529.4 502.1L526.7 507.5L524.0 498.1L523.7 490.0Z"/>
<path fill="#dc3c00" d="M444.6 481.9L452.7 480.6L453.3 495.4L451.3 506.1L447.9 510.2L445.9 502.1Z"/>
<path fill="#cd0000" d="M446.6 483.3L451.0 482.6L451.3 495.4L449.7 503.5L447.9 506.1L447.0 498.1Z"/>
<path fill="#dc3c00" d="M322.7 278.8L330.3 280.5L338.7 282.2L345.4 288.9L353.8 295.6L357.2 300.7L350.4 304.0L342.1 300.7L333.6 304.0L328.6 305.7L325.2 297.3L323.6 288.9Z"/>
<path fill="#dc3c00" d="M392.5 302.4L400.9 299.0L409.3 297.3L411.0 290.6L417.7 288.9L422.8 282.2L427.8 288.9L434.5 293.9L441.3 299.0L446.3 295.6L448.0 283.9L453.0 283.9L454.7 292.3L461.4 295.6L468.2 299.0L469.9 304.0L464.8 307.4L456.4 305.7L451.4 309.1L444.6 310.8L434.5 312.4L426.1 313.3L417.7 315.0L409.3 316.7L400.9 310.8L395.9 307.4Z"/>
<path fill="#f0aa00" d="M411.0 293.9L417.7 294.8L424.4 300.7L432.9 309.1L429.5 310.8L421.1 305.7L414.4 300.7Z"/>
<path fill="#dc3c00" d="M397.5 325.9L404.3 320.9L414.4 319.2L424.4 317.5L434.5 317.5L442.9 319.2L448.0 324.2L442.9 329.3L434.5 330.9L424.4 329.3L417.7 332.6L409.3 336.0L400.9 334.3Z"/>
<path fill="#dc3c00" d="M380.7 342.7L387.4 334.3L397.5 332.6L407.6 336.0L417.7 341.0L427.8 342.7L434.5 346.1L437.9 354.5L431.2 357.9L422.8 359.5L417.7 362.9L409.3 359.5L404.3 364.6L400.9 371.3L394.2 373.0L387.4 369.6L380.7 362.9L379.0 352.8Z"/>
<path fill="#f0aa00" d="M399.2 342.7L403.4 343.6L407.6 352.8L404.3 353.7Z"/>
<path fill="#dc3c00" d="M569.1 273.8L582.5 272.9L592.6 267.1L601.0 264.5L611.1 263.7L619.5 268.7L621.2 275.4L616.2 280.5L609.5 277.1L602.7 275.4L596.0 280.5L585.9 282.2L579.2 285.5L582.5 277.1Z"/>
<path fill="#dc3c00" d="M468.2 359.5L478.3 356.2L488.4 359.5L490.0 369.6L485.0 375.0L468.2 375.0Z"/>
<path fill="#dc3c00" d="M607.5 341.5L611.2 325.0L625.0 316.2L640.0 311.2L652.5 300.0L662.5 295.0L675.0 294.5L687.5 303.8L700.0 308.8L712.5 320.0L718.8 330.0L715.0 341.5Z"/>
<path fill="#cd0000" d="M622.5 341.5L625.0 330.0L637.5 322.5L647.5 315.0L655.0 317.5L650.0 327.5L640.0 335.0L637.5 341.5Z"/>
<path fill="#dc3c00" d="M635.9 342.5L638.7 350.9L637.3 356.4L645.6 360.6L648.4 368.9L649.8 375.9L656.7 378.7L651.2 381.4L642.8 382.8L640.0 388.4L642.8 393.9L648.4 399.5L656.7 402.3L662.3 398.1L670.6 395.3L673.4 391.2L679.0 385.6L676.2 395.3L681.8 396.7L687.3 392.6L692.9 391.2L695.7 396.7L701.2 398.1L709.6 396.7L715.1 399.5L720.7 403.7L723.5 407.9L720.7 413.4L719.3 419.0L720.7 425.9L723.5 430.1L722.1 438.4L723.5 444.7L746.4 444.7L746.4 341.8L635.9 341.8Z"/>
<path fill="#cd0000" d="M673.4 343.9L684.5 343.9L687.3 352.2L688.7 363.4L685.9 374.5L681.8 385.6L676.2 391.2L677.6 380.1L679.0 368.9L676.2 357.8Z"/>
<path fill="#cd0000" d="M729.0 343.9L744.3 343.9L744.3 371.7L737.4 368.9L731.8 360.6L727.6 352.2Z"/>
<path fill="#cd0000" d="M748.5 356.4L756.8 357.8L758.9 364.8L756.8 371.7L749.9 371.7L747.8 363.4Z"/>
<path fill="#f0aa00" d="M720.7 403.7L729.0 402.3L736.0 405.1L746.4 407.9L746.4 444.7L730.4 444.7L727.6 435.7L723.5 430.1L720.7 425.9L719.3 419.0L720.7 413.4L723.5 407.9Z"/>
<path fill="#b0d24a" d="M722.1 413.4L729.0 412.0L733.2 416.2L730.4 420.4L723.5 421.8Z"/>
<path fill="#b0d24a" d="M733.2 419.0L742.9 419.0L743.6 427.3L736.0 427.3Z"/>
<path fill="#f0aa00" d="M692.9 399.5L698.4 397.4L706.8 398.1L715.1 399.5L717.9 402.3L712.3 400.9L704.0 399.5L695.7 400.9Z"/>
<path fill="#dc3c00" d="M626.8 432.9L633.1 432.2L633.8 444.0L626.1 444.0Z"/>
<path fill="#f0aa00" d="M749.9 385.6L754.0 378.7L761.0 373.1L769.3 371.7L776.3 371.7L780.5 377.3L781.9 384.2L777.7 389.8L776.3 394.2L749.9 394.2Z"/>
<path fill="#b0d24a" d="M748.4 420.4L756.8 419.6L765.2 423.8L766.9 428.9L760.2 432.2L750.1 431.4Z"/>
<path fill="#dc3c00" d="M549.5 533.1L554.9 527.7L563.0 521.0L567.7 523.6L559.6 530.4L554.2 536.4L551.6 541.1L548.2 542.5Z"/>
<path fill="#f0aa00" d="M537.4 523.6L549.5 522.3L552.2 530.4L549.5 535.8L548.2 543.8L537.4 543.8Z"/>
<path fill="#f0aa00" d="M601.0 461.7L611.1 465.0L619.5 461.7L629.6 460.0L642.2 460.0L642.2 520.0L619.5 520.0L619.5 499.5L611.1 499.5L602.7 496.1L597.7 489.4L602.7 482.7L607.8 475.9L602.7 469.2Z"/>
<path fill="#b0d24a" d="M619.5 482.7L629.6 479.3L642.2 481.0L642.2 520.0L619.5 520.0Z"/>
<path fill="#4a94a2" d="M606.0 484.6L640.4 484.6L640.4 550.8L572.4 550.8L565.7 545.2L568.4 543.1L575.1 537.8L583.2 531.0L591.2 521.6L596.6 512.2L602.0 501.4Z"/>
<path fill="#1874cd" d="M595.3 514.2L606.0 506.1L616.8 503.5L622.2 511.5L616.8 519.6L608.7 525.0L600.7 534.4L608.7 541.1L622.2 543.8L635.6 546.5L640.4 550.8L581.8 550.8L589.9 543.8L592.6 530.4Z"/>
<path fill="#b0d24a" d="M600.7 492.7L616.8 490.0L635.6 492.7L640.4 500.8L630.3 503.5L619.5 500.8L608.7 502.1L600.7 506.1L595.3 511.5Z"/>
<path fill="#f0aa00" d="M602.0 488.6L619.5 488.6L616.8 496.7L608.7 498.1L600.7 500.8Z"/>
<path fill="#f0aa00" d="M617.5 522.3L628.9 518.9L640.4 520.3L640.4 536.4L630.3 535.1L620.9 533.7Z"/>
<path fill="#cd0000" d="M619.5 523.6L628.9 521.0L639.7 522.3L639.7 534.4L630.3 533.1L622.2 531.7Z"/>
<path fill="#cd0000" d="M634.3 504.8L639.7 504.8L639.7 516.9L635.0 515.6Z"/>
<path fill="#f0aa00" d="M641.8 446.8L661.0 446.8L661.0 450.2L662.3 456.9L670.4 463.6L666.3 470.4L661.0 475.8L666.3 481.1L673.1 483.8L665.0 490.6L656.9 494.6L659.6 500.0L650.2 505.4L656.9 510.7L663.6 517.5L656.9 526.9L647.5 532.3L643.5 540.3L643.5 550.0L641.8 550.0Z"/>
<path fill="#dc3c00" d="M646.1 448.8L661.0 448.8L662.3 456.9L669.0 463.6L665.0 470.4L656.9 474.4L651.5 470.4L647.5 462.3Z"/>
<path fill="#b0d24a" d="M641.8 486.5L656.9 483.8L665.0 487.9L670.4 493.2L665.0 500.0L656.9 505.4L648.8 502.7L641.8 505.4Z"/>
<path fill="#4a94a2" d="M641.8 493.2L654.2 493.2L656.9 498.6L650.2 501.3L641.8 500.0Z"/>
<path fill="#cd0000" d="M643.5 505.4L651.5 508.0L661.0 516.1L667.7 524.2L665.0 528.2L656.9 522.8L648.8 516.1L643.5 513.4Z"/>
<path fill="#b0d24a" d="M641.8 516.1L650.2 518.8L656.9 524.2L654.2 532.3L647.5 537.6L641.8 540.3Z"/>
<path fill="#dc3c00" d="M705.4 521.5L710.7 524.2L716.1 533.6L717.5 544.4L716.1 550.0L698.6 550.0L697.3 540.3L700.0 529.6Z"/>
<path fill="#4a94a2" d="M722.8 454.2L729.6 458.3L735.0 465.0L739.0 473.1L743.0 479.8L740.3 485.2L735.0 483.8L729.6 489.2L724.2 486.5L721.5 478.4L720.1 469.0L720.8 459.6Z"/>
<path fill="#1874cd" d="M722.2 471.7L728.2 473.1L730.9 478.4L728.2 482.5L723.5 481.1Z"/>
<path fill="#f0aa00" d="M728.2 490.6L736.3 489.2L737.6 497.3L730.9 500.0Z"/>
<path fill="#f0aa00" d="M741.7 494.6L748.4 493.2L756.5 490.6L757.8 495.9L749.8 498.6L743.0 500.0Z"/>
<path fill="#dc3c00" d="M730.9 493.2L735.0 493.2L735.0 497.3L731.6 497.9Z"/>
<path fill="#4a94a2" d="M729.9 542.3L755.1 542.3L761.9 550.7L761.0 564.2L755.1 574.3L746.7 581.0L729.9 582.7Z"/>
<path fill="#b0d24a" d="M729.9 549.0L750.1 549.0L756.8 555.8L755.1 565.9L748.4 572.6L729.9 574.3Z"/>
<path fill="#f0aa00" d="M729.9 552.4L746.7 553.2L750.9 559.1L748.4 565.9L729.9 567.5Z"/>
<path fill="#cd0000" d="M729.9 554.9L744.2 555.8L745.0 560.8L729.9 561.7Z"/>
<path fill="#4a94a2" d="M541.9 563.5L550.3 560.1L562.0 556.8L570.5 553.4L638.6 552.6L638.6 645.9L627.6 647.6L620.9 639.2L614.2 632.5L604.1 625.7L594.0 620.7L587.3 612.3L578.9 603.9L570.5 600.5L562.0 593.8L555.3 585.4L558.7 578.6L550.3 571.9L543.5 570.2Z"/>
<path fill="#4a94a2" d="M642.8 553.4L762.2 553.4L760.5 565.2L752.1 578.6L738.6 588.7L733.6 593.8L723.5 597.1L720.1 608.9L720.1 620.7L716.8 632.5L711.7 635.8L705.0 629.1L698.3 625.7L693.2 619.0L694.9 608.9L691.5 597.1L686.5 595.5L681.5 600.5L678.1 612.3L679.8 624.0L681.5 634.1L674.7 642.5L669.7 649.3L668.0 661.0L661.3 656.0L654.5 652.6L647.8 656.0L643.6 645.9L642.8 632.5Z"/>
<path fill="#1874cd" d="M590.6 592.1L600.7 588.7L610.8 590.4L620.9 595.5L631.0 600.5L636.0 605.5L636.0 612.3L627.6 615.6L617.5 614.0L607.5 610.6L599.0 603.9L592.3 598.8Z"/>
<path fill="#1874cd" d="M543.5 556.8L568.8 555.1L570.5 565.2L567.1 577.0L557.0 575.3L546.9 568.5Z"/>
<path fill="#b0d24a" d="M570.5 578.6L577.2 577.0L583.9 585.4L587.3 595.5L594.0 603.9L600.7 612.3L610.8 617.3L620.9 620.7L631.0 624.0L638.6 625.7L638.6 639.2L629.3 635.8L620.9 632.5L610.8 627.4L600.7 622.4L592.3 615.6L585.6 607.2L578.9 600.5L573.8 592.1Z"/>
<path fill="#b0d24a" d="M599.0 565.2L607.5 558.5L614.2 561.8L620.9 566.9L627.6 573.6L634.4 571.9L638.6 568.5L638.6 593.8L631.0 592.1L624.3 587.0L617.5 582.0L610.8 575.3L604.1 570.2Z"/>
<path fill="#b0d24a" d="M643.6 561.8L649.5 560.1L654.5 553.4L752.1 553.4L750.4 565.2L738.6 578.6L731.9 590.4L721.8 595.5L718.5 605.5L716.8 615.6L713.4 608.9L708.4 600.5L701.6 597.1L696.6 608.9L694.9 600.5L688.2 592.1L681.5 593.8L676.4 602.2L671.4 612.3L673.0 622.4L676.4 632.5L673.0 639.2L668.0 645.9L666.3 656.0L661.3 652.6L654.5 649.3L647.8 652.6L644.5 642.5L642.8 632.5L642.8 595.5Z"/>
<path fill="#4a94a2" d="M644.5 558.5L652.9 560.1L654.5 568.5L659.6 575.3L657.9 585.4L651.2 583.7L646.1 575.3Z"/>
<path fill="#b0d24a" d="M696.6 595.5L705.0 593.8L711.7 600.5L713.4 610.6L710.0 615.6L703.3 612.3L698.3 615.6L694.9 608.9Z"/>
<path fill="#f0aa00" d="M573.8 592.1L580.5 589.6L587.3 593.8L589.0 600.5L594.0 607.2L604.1 615.6L614.2 619.0L620.9 622.4L619.2 625.7L610.8 624.0L600.7 619.0L592.3 612.3L585.6 603.9L577.2 598.8Z"/>
<path fill="#f0aa00" d="M664.6 553.4L738.6 553.4L737.0 561.8L730.2 575.3L725.2 588.7L718.5 593.8L710.0 592.1L701.6 587.0L694.9 590.4L686.5 588.7L679.8 590.4L674.7 598.8L668.0 602.2L664.6 612.3L668.0 620.7L663.0 629.1L654.5 632.5L647.8 629.1L644.5 619.0L647.8 608.9L644.5 598.8L647.8 592.1L654.5 588.7L661.3 582.0L666.3 571.9L664.6 561.8Z"/>
<path fill="#f0aa00" d="M620.1 624.0L632.7 622.4L638.6 625.7L638.6 644.2L629.3 645.1L621.8 637.5Z"/>
<path fill="#f0aa00" d="M569.6 556.8L575.5 555.1L578.9 565.2L579.7 574.4L575.5 573.6L570.5 565.2Z"/>
<path fill="#f0aa00" d="M572.4 588.2L584.5 586.9L591.2 595.0L589.9 603.0L580.5 604.4L573.8 597.6Z"/>
<path fill="#dc3c00" d="M678.1 553.4L726.9 553.4L726.0 566.9L721.8 578.6L716.8 587.0L710.0 588.7L706.7 578.6L703.3 570.2L698.3 573.6L700.0 582.0L694.9 587.0L688.2 585.4L684.8 578.6L679.8 575.3L678.1 565.2Z"/>
<path fill="#cd0000" d="M688.2 553.4L723.5 553.4L724.3 565.2L720.1 578.6L715.1 585.4L710.0 585.4L708.4 575.3L710.0 565.2L703.3 561.8L696.6 565.2L698.3 578.6L693.2 583.7L688.2 578.6L686.5 565.2Z"/>
<path fill="#cd0000" d="M578.0 592.9L586.4 592.1L587.3 597.1L580.5 598.0Z"/>
<path fill="#cd0000" d="M622.6 625.7L631.0 624.9L637.7 629.1L637.7 640.9L631.0 642.5L624.3 635.8Z"/>
<path fill="#cd0000" d="M571.3 560.1L575.5 559.3L577.2 568.5L573.8 570.2Z"/>
<path fill="#cd0000" d="M577.8 592.3L585.9 592.3L587.2 599.0L580.5 600.3Z"/>
<path fill="#dc3c00" d="M652.9 593.8L659.6 595.5L663.0 602.2L657.9 601.3Z"/>
<path fill="#dc3c00" d="M669.7 593.8L678.1 589.6L678.9 593.8L671.4 599.7Z"/>
<path fill="#b0d24a" d="M705.0 645.9L710.0 639.2L716.8 645.9L719.3 654.3L716.8 667.8L711.7 670.3L707.5 662.7L705.8 654.3Z"/>
<path fill="#f0aa00" d="M707.5 647.6L710.9 644.2L715.1 649.3L716.8 656.0L715.1 664.4L711.7 666.9L709.2 659.4Z"/>
<path fill="#cd0000" d="M708.4 644.2L710.9 644.2L711.7 649.3L709.2 649.3Z"/>
<path fill="#cd0000" d="M709.2 659.4L712.6 657.7L713.4 664.4L710.9 666.1Z"/>
<path fill="#b3b3b3" d="M893.8 221.2L1055.0 221.2L1055.0 262.5L1040.0 262.5L1030.0 266.2L1020.0 270.0L1010.0 271.2L1007.5 280.0L995.0 286.2L980.0 290.0L985.0 287.5L990.0 277.5L987.5 270.0L970.0 271.2L955.0 273.8L950.0 267.5L940.0 257.5L930.0 253.8L915.0 255.0L910.0 243.8L897.5 245.0L893.8 237.5Z"/>
<path fill="#cd0000" d="M1278.6 487.4L1283.7 488.3L1275.3 497.5L1265.2 507.6L1255.1 517.7L1245.0 526.1L1238.3 529.5L1236.6 527.0L1245.0 519.4L1255.1 509.3L1265.2 499.2L1273.6 490.8Z"/>
<path fill="#f0aa00" d="M1283.7 500.9L1286.7 501.9L1275.3 514.7L1265.2 524.8L1262.3 523.8L1273.6 511.8Z"/>
<path fill="#f0aa00" d="M1295.5 499.2L1298.5 500.2L1287.0 513.0L1277.0 523.1L1274.1 522.1L1285.4 510.2Z"/>
<path fill="#f0aa00" d="M1277.0 531.2L1280.0 532.2L1268.5 543.3L1265.7 542.3Z"/>
<path fill="#f0aa00" d="M1216.1 552.5L1224.2 547.1L1232.3 544.4L1235.0 546.4L1226.9 551.1L1218.8 556.5Z"/>
<path fill="#dc3c00" d="M1222.8 549.8L1226.9 547.8L1227.5 549.8L1223.5 551.8Z"/>
<path fill="#f0aa00" d="M1213.4 570.0L1217.5 567.3L1218.8 570.0L1214.8 574.0Z"/>
<path fill="#f0aa00" d="M1202.7 580.7L1206.7 578.0L1208.0 582.1L1204.0 584.8Z"/>
<path fill="#f0aa00" d="M1187.9 592.8L1193.2 590.1L1194.6 594.2L1189.2 596.9Z"/>
<path fill="#f0aa00" d="M1175.8 596.9L1179.8 594.9L1181.1 598.9L1177.1 600.9Z"/>
<path fill="#dc3c00" d="M1203.3 581.4L1206.0 580.1L1206.7 582.4L1204.3 583.4Z"/>
<path fill="#b0d24a" d="M1157.6 570.0L1163.6 568.0L1165.7 573.3L1160.3 576.0Z"/>
<path fill="#f0aa00" d="M1159.6 571.3L1163.0 570.2L1163.6 573.3L1160.7 574.3Z"/>
<path fill="#1874cd" d="M1209.4 520.2L1216.1 518.8L1220.2 522.9L1218.8 528.9L1213.4 531.6L1209.4 526.9Z"/>
<path fill="#4a94a2" d="M1165.0 536.3L1170.4 535.7L1171.7 540.4L1167.0 542.4L1164.3 539.7Z"/>
<path fill="#4a94a2" d="M1263.9 553.1L1267.2 553.1L1267.2 556.5L1263.9 556.5Z"/>
<path fill="#1874cd" d="M829.1 495.2L840.9 494.4L841.8 503.6L834.2 506.2L828.3 501.9Z"/>
<path fill="#1874cd" d="M805.6 500.3L812.3 501.9L813.2 509.5L807.3 508.7Z"/>
<path fill="#1874cd" d="M860.2 498.6L866.1 498.2L866.5 502.8L860.8 503.3Z"/>
<path fill="#1874cd" d="M877.9 498.6L888.0 499.4L888.0 503.6L879.6 503.6Z"/>
<path fill="#f0aa00" d="M957.0 477.6L962.0 477.6L962.0 482.6L957.3 482.6Z"/>
<path fill="#b3b3b3" d="M538.8 660.0L543.8 658.8L551.2 657.5L552.5 662.5L548.8 668.8L545.0 666.2L540.0 665.0Z"/>
<path fill="#b3b3b3" d="M568.8 655.0L572.5 653.8L574.2 658.8L570.5 660.0Z"/>
<path fill="#b3b3b3" d="M1467.8 292.5L1473.4 289.1L1475.7 293.6L1471.2 297.0Z"/>
</g>
</g>
<g shape-rendering="geometricPrecision" fill="none" stroke="#000" stroke-linejoin="round" stroke-linecap="round">
<path stroke-width="3.0" d="M473.2 235.8L473.2 305.0M473.8 370.0L473.8 420.0M493.0 235.8L493.0 260.0M320.0 420.0L598.8 420.0M598.8 341.2L598.8 445.0M598.8 341.2L746.2 341.2M746.2 235.8L746.2 445.0M410.0 420.0L410.0 499.5M410.0 499.5L522.5 602.5M536.2 420.0L536.2 570.0M536.2 550.0L945.0 550.0M640.8 445.0L640.8 700.5M598.8 445.0L788.8 445.0M788.8 445.0L788.8 550.0M768.8 550.0L768.8 684.5M768.8 684.5L691.2 685.5M746.2 316.2L905.0 316.2M746.2 393.2L862.5 393.2M788.8 472.9L927.0 472.9M768.8 564.5L831.2 564.5M831.2 564.5L831.2 617.5M907.0 340.0L907.0 380.0M907.0 379.5L1013.8 379.5M1027.5 406.2L1091.2 406.2M1036.0 305.0L1054.0 311.7M945.0 500.0L945.0 551.2M946.2 563.8L948.8 592.5L947.5 617.5L948.0 637.5M922.5 457.0L1006.2 456.5M946.2 564.5L1040.0 564.5M1093.8 427.5L1093.8 505.0M1151.2 427.5L1151.2 500.0M1242.0 420.0L1242.0 480.2M1052.5 564.5L1081.2 564.5M1082.5 560.8L1315.0 562.5M1315.0 562.5L1342.0 563.5M1033.8 605.5L1182.5 605.0M1081.2 605.0L1078.8 643.0M1135.0 605.0L1141.2 643.0M958.0 656.2L958.0 680.0M958.0 657.0L1016.2 657.0M1007.5 709.5L1048.8 710.0M1080.8 620.0L1073.8 685.0L1075.0 726.2M1136.2 620.0L1145.0 665.0M1091.2 709.5L1146.2 709.5M1147.5 715.2L1205.0 721.5M1236.7 608.5L1260.6 609.1L1283.4 634.2M1440.9 349.6L1442.5 372.1M1395.4 400.1L1435.3 400.7M1391.6 417.3L1435.3 418.0M1426.8 418.0L1426.8 437.1M1258.0 418.8L1348.8 418.8M1316.5 418.7L1352.4 418.7M1361.4 435.9L1382.7 447.1M1243.9 426.6L1243.9 479.9L1344.3 479.9M1344.3 480.3L1344.3 511.7M1110.0 426.5L1151.0 426.5L1179.5 425.8"/>
<path stroke-width="3.4" d="M352.5 235.8L932.5 235.8M691.2 688.8L658.8 690.0M658.8 701.2L640.0 701.2L597.5 700.5L518.8 670.0M522.5 665.0L470.5 669.2"/>
<g filter="url(#wob)">
<path stroke-width="3.1" d="M325.5 306.2L333.8 307.5L343.8 309.5L350.0 316.2L352.5 322.5L362.5 325.0L375.0 323.0L387.5 323.8L397.5 321.2L410.0 318.8L420.0 316.2L432.5 315.0L445.0 314.5L460.0 314.2L474.5 314.0M473.2 305.0L475.0 310.0L476.2 314.5L481.2 318.8L483.8 323.8L482.0 330.0L480.0 337.5L476.2 343.8L472.5 347.5L470.0 352.5L468.8 357.5L472.5 361.2L475.0 363.8L473.8 370.0M493.0 260.0L496.2 266.2L500.0 271.2L501.2 276.2L507.5 281.2L512.5 286.2L517.5 292.5L523.8 295.0L530.0 297.5L530.0 303.8L527.5 310.0L526.2 316.2L527.5 320.0L525.0 325.0L528.8 327.5L533.8 323.8L537.5 322.5L541.2 327.5L543.8 333.8L547.5 338.8L550.0 343.8L553.8 347.5L556.2 351.2L560.0 356.2L567.5 353.8L577.5 352.5L588.8 352.0L592.5 347.5L596.2 351.2L598.8 355.0M536.2 570.0L533.8 576.2L527.5 577.5L521.2 576.2L520.0 582.5L523.8 590.0L522.5 602.5L525.0 610.0L528.8 620.0L533.8 623.8M533.8 623.8L527.5 630.0L525.0 640.0L521.2 647.5L520.0 655.0L525.0 658.8L523.8 664.5M891.2 235.8L892.5 245.0L895.0 257.5L897.5 270.0L898.8 282.5L901.2 295.0L903.8 305.0L905.0 316.2L898.8 322.5L905.0 327.5L906.2 335.0L907.0 340.0M907.0 380.0L902.5 382.5L905.0 390.0L903.8 397.5L906.2 405.0L910.0 412.5L912.5 422.5L915.0 432.5L917.5 443.0M862.5 393.2L870.0 396.2L875.0 398.8L885.0 397.0L895.0 398.8L902.5 403.8L906.2 406.2M996.2 295.0L995.0 305.0L987.5 313.8L981.2 320.0L983.8 327.5L982.5 340.0L987.5 347.5L997.5 355.0L1007.5 362.5L1013.8 370.0L1017.5 380.0L1016.2 390.0L1020.0 398.8L1026.2 405.0L1036.2 413.8L1039.2 420.0M1034.9 299.6L1036.0 305.0M1054.0 311.7L1069.7 316.2L1078.6 318.5L1085.4 325.2L1089.8 331.9L1092.1 338.6L1085.4 349.9L1083.1 353.2M912.5 420.0L915.0 430.0L917.5 440.0L920.0 450.0L922.5 457.5L926.2 465.0L930.0 471.2L936.2 473.8L940.0 478.8L935.0 483.8L940.0 490.0L943.8 495.0L945.0 500.0M945.0 551.2L946.2 563.8M1006.2 456.5L1009.2 458.0M1039.4 420.5L1034.3 428.9L1022.5 434.7L1018.3 440.6L1020.9 447.4L1015.8 454.1L1009.1 457.5L1010.8 467.5L1012.4 477.6L1019.2 486.0L1025.9 494.5L1029.3 501.2L1037.7 502.9L1039.4 509.6L1036.0 516.3M1036.0 516.2L1033.8 518.8L1040.0 523.8L1046.2 530.0L1051.2 535.0L1053.8 542.5L1057.5 548.8L1063.8 545.0L1068.8 546.2L1073.8 548.8L1067.5 552.5L1061.2 555.0L1058.8 560.0L1052.5 563.8L1047.5 577.5L1045.0 585.0L1040.0 592.5L1037.5 600.0L1033.8 606.2L1030.0 612.5L1026.2 620.0L1022.5 627.5L1018.8 635.0L1016.2 643.0M1040.0 564.5L1036.2 570.0L1040.0 572.5L1033.8 577.5L1047.5 577.5M1093.8 505.0L1090.0 512.5L1086.2 520.0L1082.5 527.5M1075.0 547.5L1077.5 540.0L1082.5 530.0L1090.0 527.5L1098.8 530.0L1105.0 526.2L1112.5 528.8L1117.5 521.2L1126.2 523.8L1133.8 517.5L1140.0 510.0L1145.0 505.0L1151.2 500.0L1160.0 500.0L1167.5 505.0L1176.2 507.5L1185.0 508.8L1192.5 506.2L1196.2 511.2L1200.0 513.8L1205.0 505.0L1212.5 500.0L1220.0 495.0L1226.2 488.8L1232.5 477.5L1237.5 467.5L1240.0 457.5L1241.2 445.0M1196.2 511.2L1198.8 522.5L1205.0 532.5L1212.5 542.5L1202.5 548.8L1192.5 555.0L1182.5 560.0L1176.2 562.0M1081.2 564.5L1082.5 560.8M1215.0 563.0L1210.0 570.0L1200.0 577.5L1190.0 585.0L1180.0 591.2L1170.0 595.0L1162.5 598.8L1161.2 605.0M831.2 617.5L836.2 620.0L847.5 623.8L860.0 627.5L872.5 631.2L882.5 635.0L892.5 637.5L902.5 635.5L912.5 638.8L922.5 633.8L932.5 632.0L940.0 635.0L947.5 640.0L956.2 642.0M956.2 642.0L958.0 643.0L958.0 656.2M958.0 680.0L962.5 690.0L966.5 700.0L968.0 707.5M967.7 708.6L965.5 717.2L963.4 723.7L965.5 730.1L963.4 736.6L960.1 742.6M1016.2 643.0L1018.8 650.0L1016.2 657.0L1018.8 665.0L1022.5 672.5L1020.0 680.0L1015.0 687.5L1011.2 695.0L1009.5 702.5L1007.5 709.5M1048.8 710.0L1047.5 720.0L1051.2 727.5L1055.0 731.2M1145.0 665.0L1150.0 676.2L1147.5 682.5L1146.2 695.0L1148.0 708.8L1150.0 716.2M1098.0 723.0L1096.2 721.2L1092.5 717.5L1091.2 709.5M1205.0 721.5L1206.2 725.2L1210.0 725.2L1212.5 715.2L1216.2 714.0L1223.8 716.5M1187.2 604.5L1194.8 601.8L1200.5 599.1L1214.8 598.6L1232.0 599.9L1234.8 603.3L1236.7 608.5M1187.2 604.5L1183.9 608.7L1182.8 611.4L1187.2 616.7L1192.9 620.5L1196.7 628.1L1203.4 635.8L1211.0 643.4L1215.8 651.0L1221.5 656.7L1224.3 664.3L1228.2 672.0L1229.1 679.6L1233.9 683.4M1391.6 339.8L1392.3 349.6L1391.0 358.6L1391.6 367.6L1391.0 376.5L1395.0 385.5L1396.1 398.9L1392.8 409.0L1391.6 416.9L1388.7 430.3L1387.8 441.5L1384.9 447.1M1432.0 338.9L1429.7 347.4L1424.1 354.1L1420.8 358.6L1418.5 367.6L1415.2 376.5L1412.9 385.5L1410.7 394.5L1409.6 400.1M1439.8 332.2L1440.9 349.6M1442.5 372.1L1443.8 385.5L1445.4 394.5M1435.3 400.7L1442.1 396.7L1446.5 395.6M1435.3 418.0L1436.5 425.8L1439.8 430.3M1258.8 413.8L1258.0 418.8M1352.4 418.7L1355.8 425.8L1359.1 432.6L1361.4 435.9M1361.4 435.9L1356.9 443.8L1353.5 452.7M1353.7 452.3L1356.6 459.1L1364.0 465.1L1360.4 471.4L1353.7 475.9L1346.5 480.3M1344.3 511.7L1358.2 511.7M1263.4 479.8L1263.4 492.9L1270.2 487.5L1275.6 484.5L1280.3 483.1L1285.6 484.1L1288.3 485.8L1290.4 487.5L1295.7 492.2L1299.8 494.9L1303.1 492.2L1306.5 493.5L1310.5 496.9L1314.6 498.9L1317.9 500.9L1315.9 505.0L1311.9 509.0L1309.2 512.4L1309.2 515.7L1313.2 516.4M1287.7 486.1L1285.0 492.2L1281.6 498.2L1276.9 503.6L1272.9 505.0L1268.8 510.4L1263.4 513.0L1260.1 510.4L1256.5 514.8L1253.8 521.5L1249.8 528.3L1247.1 535.0L1243.0 539.0L1235.0 541.0L1229.6 543.1L1224.2 545.7L1218.8 544.4L1213.4 543.1L1210.7 539.0"/>
<path stroke-width="3.5" d="M932.5 235.8L932.5 225.5L941.5 225.5L943.0 235.0L944.5 242.0L950.0 243.8L956.2 245.0L962.5 246.5L965.5 248.0L970.0 245.2L976.2 244.2L982.0 245.0L986.2 248.8L990.0 252.0L997.5 252.5L1002.5 255.0L1007.5 257.8L1011.2 260.0L1016.2 259.0L1021.2 256.5L1025.0 255.2L1027.5 257.5L1033.8 258.2L1040.0 259.0L1047.5 260.2L1054.0 261.8L1045.0 264.0L1036.0 268.2L1027.1 273.9L1018.1 280.6L1009.1 287.3L1001.3 292.9L996.1 296.1L1002.4 294.9L1011.4 293.4L1019.2 292.0L1023.0 290.7L1024.8 293.8L1024.2 298.7L1028.2 299.4L1034.9 299.6L1047.2 293.4L1058.5 288.9L1069.7 283.7L1077.5 277.7L1084.2 275.4L1091.0 275.9L1090.3 279.2L1083.1 281.5L1077.5 286.0L1075.3 293.8L1079.8 288.2L1085.4 288.2L1092.1 292.7L1098.8 299.4L1105.5 301.0L1112.3 300.5L1119.0 298.7L1128.0 296.1L1136.9 294.5L1148.1 293.8L1149.7 300.1L1159.3 302.3L1165.6 301.6L1166.5 307.2L1171.0 312.9L1159.3 314.0L1152.6 314.0L1147.0 312.2L1136.9 311.7L1129.1 313.5L1123.5 315.8L1116.8 317.3L1112.3 318.5L1105.5 318.5L1102.2 323.4L1098.8 329.7L1094.8 336.4L1091.4 342.0L1086.5 348.7L1083.1 353.2L1087.2 350.3L1092.1 343.6L1096.6 337.5L1101.1 331.5L1105.5 326.3L1109.6 324.7L1107.8 329.7L1103.3 336.4L1098.8 344.2L1096.1 352.1L1094.3 361.1L1091.4 374.5L1089.2 388.0L1089.8 401.4L1092.1 414.9L1095.5 424.9L1101.1 427.6L1108.9 425.2L1114.5 419.3L1120.1 405.9L1122.3 396.9L1119.0 385.7L1115.6 374.5L1116.8 363.3L1120.1 352.1L1123.5 345.4L1130.2 340.9L1134.7 338.6L1141.4 331.9L1147.0 327.4L1149.3 321.8L1150.4 317.3L1159.3 321.8L1170.5 326.3L1179.5 331.9L1184.0 338.6L1184.0 347.6L1181.8 356.6L1178.4 364.4L1172.8 367.8L1169.4 371.1L1171.7 376.8L1176.2 377.9L1180.6 372.3L1185.1 366.7L1191.8 365.5L1196.3 368.9L1199.7 376.8L1200.8 385.7L1201.9 394.7L1198.6 401.4L1195.2 405.9L1189.6 411.5L1185.1 417.1L1181.8 422.7L1179.5 426.1L1186.2 429.4L1191.8 432.8L1200.8 433.9L1210.9 431.7L1222.1 427.2L1233.3 422.7L1244.5 417.1L1260.0 411.5L1265.0 408.8L1272.5 402.5L1275.0 396.2L1272.5 390.0L1273.8 386.2L1282.5 383.8L1292.5 384.5L1302.5 386.2L1312.5 385.0L1322.5 382.5L1330.0 377.5L1332.5 370.0L1328.8 365.0L1332.5 360.0L1340.0 353.8L1347.5 347.5L1353.8 342.5L1359.1 340.2L1374.8 340.0L1391.6 339.8L1408.4 339.6L1424.1 339.1L1432.0 338.9L1433.5 334.0L1439.8 332.2L1443.2 331.3L1447.7 329.5L1451.0 325.0L1455.5 319.4L1457.8 313.8L1456.6 308.2L1460.0 302.6L1463.3 297.0L1467.8 291.4L1472.3 284.6L1476.8 279.1L1480.2 275.7L1483.5 276.1L1484.6 281.3L1491.4 279.1L1498.1 277.5L1502.6 277.9L1507.0 281.3L1510.4 285.8L1511.1 293.6L1511.1 304.8L1511.5 318.3L1514.9 323.9L1518.3 326.1L1518.3 331.7L1522.7 336.2L1526.1 340.7L1525.0 345.2L1520.5 348.5L1513.8 350.8L1507.0 353.0L1500.3 355.2L1494.7 357.5L1490.2 354.1L1486.9 356.4L1489.1 359.7L1484.6 362.0L1480.2 364.2L1475.7 367.6L1471.2 369.8L1466.7 370.9L1462.2 372.1L1457.8 375.4L1454.4 379.9L1452.1 384.4L1449.9 390.0L1447.7 394.5L1445.4 398.9L1446.5 403.4L1443.2 407.9L1442.1 412.4L1445.4 415.8L1448.8 418.0L1451.0 421.4L1452.1 425.8L1455.5 427.0L1460.0 425.8L1463.3 423.6L1462.2 419.1L1460.0 416.9L1461.8 416.4L1465.1 420.2L1465.6 425.8L1462.2 430.3L1456.6 431.4L1452.1 433.7L1448.8 434.8L1444.3 433.7L1439.8 434.8L1435.3 433.7L1432.0 437.1L1426.4 438.2L1419.7 440.4L1412.9 442.0L1406.2 443.8L1399.5 444.9L1392.8 446.0L1386.0 448.3L1392.8 447.8L1404.0 445.6L1415.2 443.3L1424.1 440.6L1425.9 442.0L1419.7 446.0L1408.4 449.4L1395.0 452.7L1382.7 455.0L1380.6 460.2L1380.2 469.1L1377.9 477.0L1374.5 483.7L1370.1 490.4L1365.6 496.0L1361.1 500.1L1356.6 497.1L1352.1 490.4L1348.8 483.7L1345.4 480.3L1346.5 484.8L1349.9 493.8L1353.3 500.5L1356.6 506.1L1358.2 509.5L1357.8 516.2L1355.5 521.8L1352.1 528.5L1347.7 535.2L1343.2 542.0L1339.8 548.7L1337.6 552.1L1338.9 553.4L1339.8 554.8L1342.1 563.3L1344.3 572.2L1346.5 580.1L1348.1 585.7L1344.3 586.8L1340.9 583.4L1337.6 585.7L1342.1 590.2L1337.6 594.6L1332.0 593.5L1335.3 598.0L1330.8 601.4L1326.4 600.2L1329.7 605.8L1324.1 609.6L1319.7 611.0L1312.0 613.8L1304.4 620.5L1298.7 627.2L1295.8 632.9L1289.2 634.2L1283.4 634.8L1277.7 638.6L1273.9 644.3L1271.0 650.0L1269.1 653.9L1264.4 657.7L1258.7 662.4L1252.9 666.2L1247.2 670.1L1241.5 673.9L1236.7 678.6L1233.9 683.4L1230.1 689.1L1227.2 695.8L1224.3 702.5L1222.0 710.1L1221.5 716.8L1225.0 725.2L1227.5 736.5L1231.2 749.0L1235.0 761.5L1238.8 771.5L1242.5 784.0L1246.2 796.5L1250.0 809.0L1252.5 819.0L1252.5 831.5L1252.0 844.0L1250.0 851.5L1246.2 857.8L1240.0 862.8L1235.0 864.5L1230.0 864.0L1227.5 859.0L1225.0 851.5L1220.0 846.5L1215.0 841.5L1212.5 832.8L1210.0 825.2L1203.8 817.8L1200.0 810.2L1197.5 801.5L1196.2 794.0L1193.0 789.0L1196.2 779.0L1196.2 767.8L1192.5 759.0L1185.0 751.5L1176.2 741.5L1170.0 734.5L1165.0 732.8L1155.0 738.8L1147.5 743.8L1140.0 744.2L1137.5 740.0L1131.2 728.8L1122.5 724.5L1110.0 722.5L1097.5 723.0L1090.0 728.0L1086.2 730.0L1085.0 720.0L1083.0 715.0L1081.2 728.0L1075.0 727.5L1065.0 726.2L1056.2 728.8L1060.0 735.0L1055.0 740.0L1051.2 745.0L1055.0 750.0L1062.5 756.2L1061.2 760.0L1058.8 763.0L1052.5 757.0L1047.5 751.8L1040.0 755.0L1032.5 756.2L1025.0 760.5L1022.5 758.1L1017.2 754.9L1011.8 750.6L1008.5 746.3L1005.3 742.0L998.9 740.9L994.6 746.3L988.1 746.3L981.6 744.1L975.2 740.9L966.6 740.9L960.1 742.6L953.7 745.2L947.2 747.3L942.9 746.3L941.8 740.9L936.5 745.2L936.5 751.6L932.1 757.0L930.0 762.4L923.5 766.7L917.1 769.9L911.7 773.2L908.5 769.9L902.0 772.1L898.8 777.5L893.4 781.8L889.1 785.0L887.0 790.4L883.7 794.7L880.5 801.1L877.9 804.4L880.5 808.7L883.7 809.8L884.4 816.2L887.0 824.8L889.1 833.4L891.7 841.0L890.2 843.1L885.9 843.1L880.5 841.0L874.0 841.0L867.6 839.9L862.2 836.6L855.8 833.4L850.4 830.2L848.2 823.7L845.0 817.3L842.9 809.8L841.3 801.1L836.4 795.8L831.0 789.3L826.7 782.9L822.4 774.2L818.1 764.6L814.9 757.0L809.5 750.6L803.0 743.0L798.7 741.3L791.2 740.9L783.7 739.8L779.4 740.9L774.0 746.3L770.8 756.0L766.5 762.4L757.5 760.0L747.5 753.8L737.5 745.0L733.8 737.5L728.8 725.0L722.5 717.5L712.5 707.5L700.0 695.0L693.0 688.0L691.2 688.8M658.8 690.0L658.8 701.2M518.8 670.0L522.5 665.0M470.5 669.2L468.0 660.0L465.0 652.5L457.5 645.0L450.0 640.0L442.5 635.0L437.5 628.8L430.0 626.2L420.0 620.0L407.5 618.8L397.5 617.5L395.0 607.5L392.5 600.0L388.8 595.0L383.8 587.5L378.8 580.0L373.8 572.5L370.0 566.2L371.2 560.0L370.0 552.5L362.5 545.0L358.8 537.5L360.0 530.0L357.5 522.5L351.2 523.8L347.5 518.8L343.8 511.2L336.2 502.5L331.2 495.0L330.0 485.0L327.5 475.0L321.2 466.2L317.0 460.0L317.5 450.0L321.2 440.0L322.5 430.0L320.0 420.0L318.0 412.5L317.0 405.0L315.0 398.0L317.0 390.0L320.0 380.0L322.0 370.0L323.8 360.0L325.0 350.0L326.2 340.0L327.5 330.0L328.0 320.0L327.5 311.2L325.5 306.2L325.0 300.0L327.5 296.2L325.0 292.5L327.5 289.5L323.8 288.0L322.0 282.5L319.5 276.2L317.5 270.0L313.8 265.0L312.0 257.5L310.8 252.0L313.8 250.5L322.5 252.5L332.5 255.0L343.8 256.8L348.8 257.0L352.5 257.5L356.2 261.2L353.8 266.2L350.0 271.2L345.5 276.2L346.2 282.5L351.2 287.0L360.0 281.2L362.5 273.8L360.0 267.5L363.0 261.2L361.2 253.8L357.0 248.0L358.8 243.8L355.5 240.0L352.5 235.8"/>
<path fill="#000" stroke="none" d="M357.0 261.2L354.5 266.2L351.0 271.2L347.0 276.2L347.5 282.0L351.2 285.5L358.0 281.2L360.5 273.8L358.5 267.5L361.5 261.2L360.0 253.8L357.0 248.0L358.0 243.8L355.5 240.5L354.5 245.0L356.5 252.5Z"/><path fill="#000" stroke="none" d="M343.8 243.8L348.8 242.0L352.5 245.0L351.2 251.2L346.2 252.5L343.0 248.8Z"/><path fill="#000" stroke="none" d="M358.0 521.2L363.0 520.0L365.0 525.0L362.5 530.0L366.2 535.5L369.5 538.0L368.0 540.0L363.8 537.5L360.0 532.5L357.5 527.5Z"/><path fill="#000" stroke="none" d="M1193.0 788.5L1200.0 789.0L1203.8 792.8L1202.5 797.8L1197.5 799.5L1194.5 795.2Z"/><path fill="#000" stroke="none" d="M1203.8 816.5L1210.0 816.0L1211.5 821.5L1206.2 823.5Z"/><path fill="#000" stroke="none" d="M1133.6 339.8L1138.0 338.2L1140.3 342.0L1138.7 347.2L1134.7 347.6Z"/><path fill="#000" stroke="none" d="M936.5 745.2L941.8 740.9L943.3 746.3L939.7 751.6L936.5 751.6Z"/><path fill="#000" stroke="none" d="M1449.9 435.3L1454.4 434.4L1456.0 437.5L1452.1 439.3Z"/><path fill="#000" stroke="none" d="M1460.0 436.6L1464.5 435.7L1465.8 439.3L1461.8 440.6Z"/><path stroke-width="4.6" d="M1334.4 485.4L1333.0 500.2L1335.7 510.9L1339.7 519.0L1337.7 527.1L1335.7 536.5L1336.4 544.5L1337.3 551.9"/><path stroke-width="4.6" d="M1326.0 483.0L1325.0 490.8L1326.3 506.9L1329.0 513.6L1331.7 525.7L1334.4 533.8L1335.7 544.5"/><path stroke-width="4.4" d="M1307.5 490.8L1315.5 500.2L1311.5 508.2L1308.8 512.3L1316.9 516.3L1325.0 520.3L1330.3 525.7"/><path stroke-width="4.4" d="M1316.9 524.4L1323.6 531.1L1330.3 536.5"/><path stroke-width="4.4" d="M1316.9 539.2L1322.3 541.8L1329.0 547.2"/><path stroke-width="4.6" d="M1315.5 544.5L1320.9 548.6L1327.6 552.6L1334.4 555.3L1337.3 553.3"/><path stroke-width="5.0" d="M1343.2 572.2L1335.3 571.1L1328.6 570.0L1323.0 571.1L1321.9 574.5L1328.6 576.7L1334.2 580.1L1330.8 583.4"/><path stroke-width="5.0" d="M1340.9 583.4L1337.6 585.7L1342.1 590.2L1337.6 594.6L1332.0 593.5L1324.1 594.6L1317.4 592.4"/><path stroke-width="5.0" d="M1335.3 598.0L1330.8 601.4L1326.4 600.2L1319.7 602.5L1314.0 600.2"/><path stroke-width="4.5" d="M1329.7 605.8L1324.1 609.6L1318.5 610.3L1312.9 612.6L1307.3 611.5"/><path stroke-width="4.5" d="M911.7 773.2L908.5 769.9L902.0 772.1L898.8 777.5L893.4 781.8L889.1 785.0L887.0 790.4L883.7 794.7L880.5 801.1L877.9 804.4L880.5 808.7"/><path stroke-width="4.5" d="M1083.8 716.2L1084.5 728.8"/><path stroke-width="4.0" d="M1051.2 745.0L1055.0 750.0L1062.5 756.2L1058.8 763.0"/><path stroke-width="4.0" d="M1047.5 751.8L1052.5 757.0L1055.0 760.0"/><path stroke-width="4.0" d="M1382.7 450.5L1386.0 448.3L1392.8 446.9L1404.0 444.9L1415.2 442.9L1424.1 440.6"/><path stroke-width="4.0" d="M1345.4 480.3L1348.8 483.7L1352.1 490.4"/><ellipse cx="1041.2" cy="731.2" rx="7" ry="4.5" fill="#fff" stroke-width="3"/>
</g>
</g>
</svg>
</body></html>
